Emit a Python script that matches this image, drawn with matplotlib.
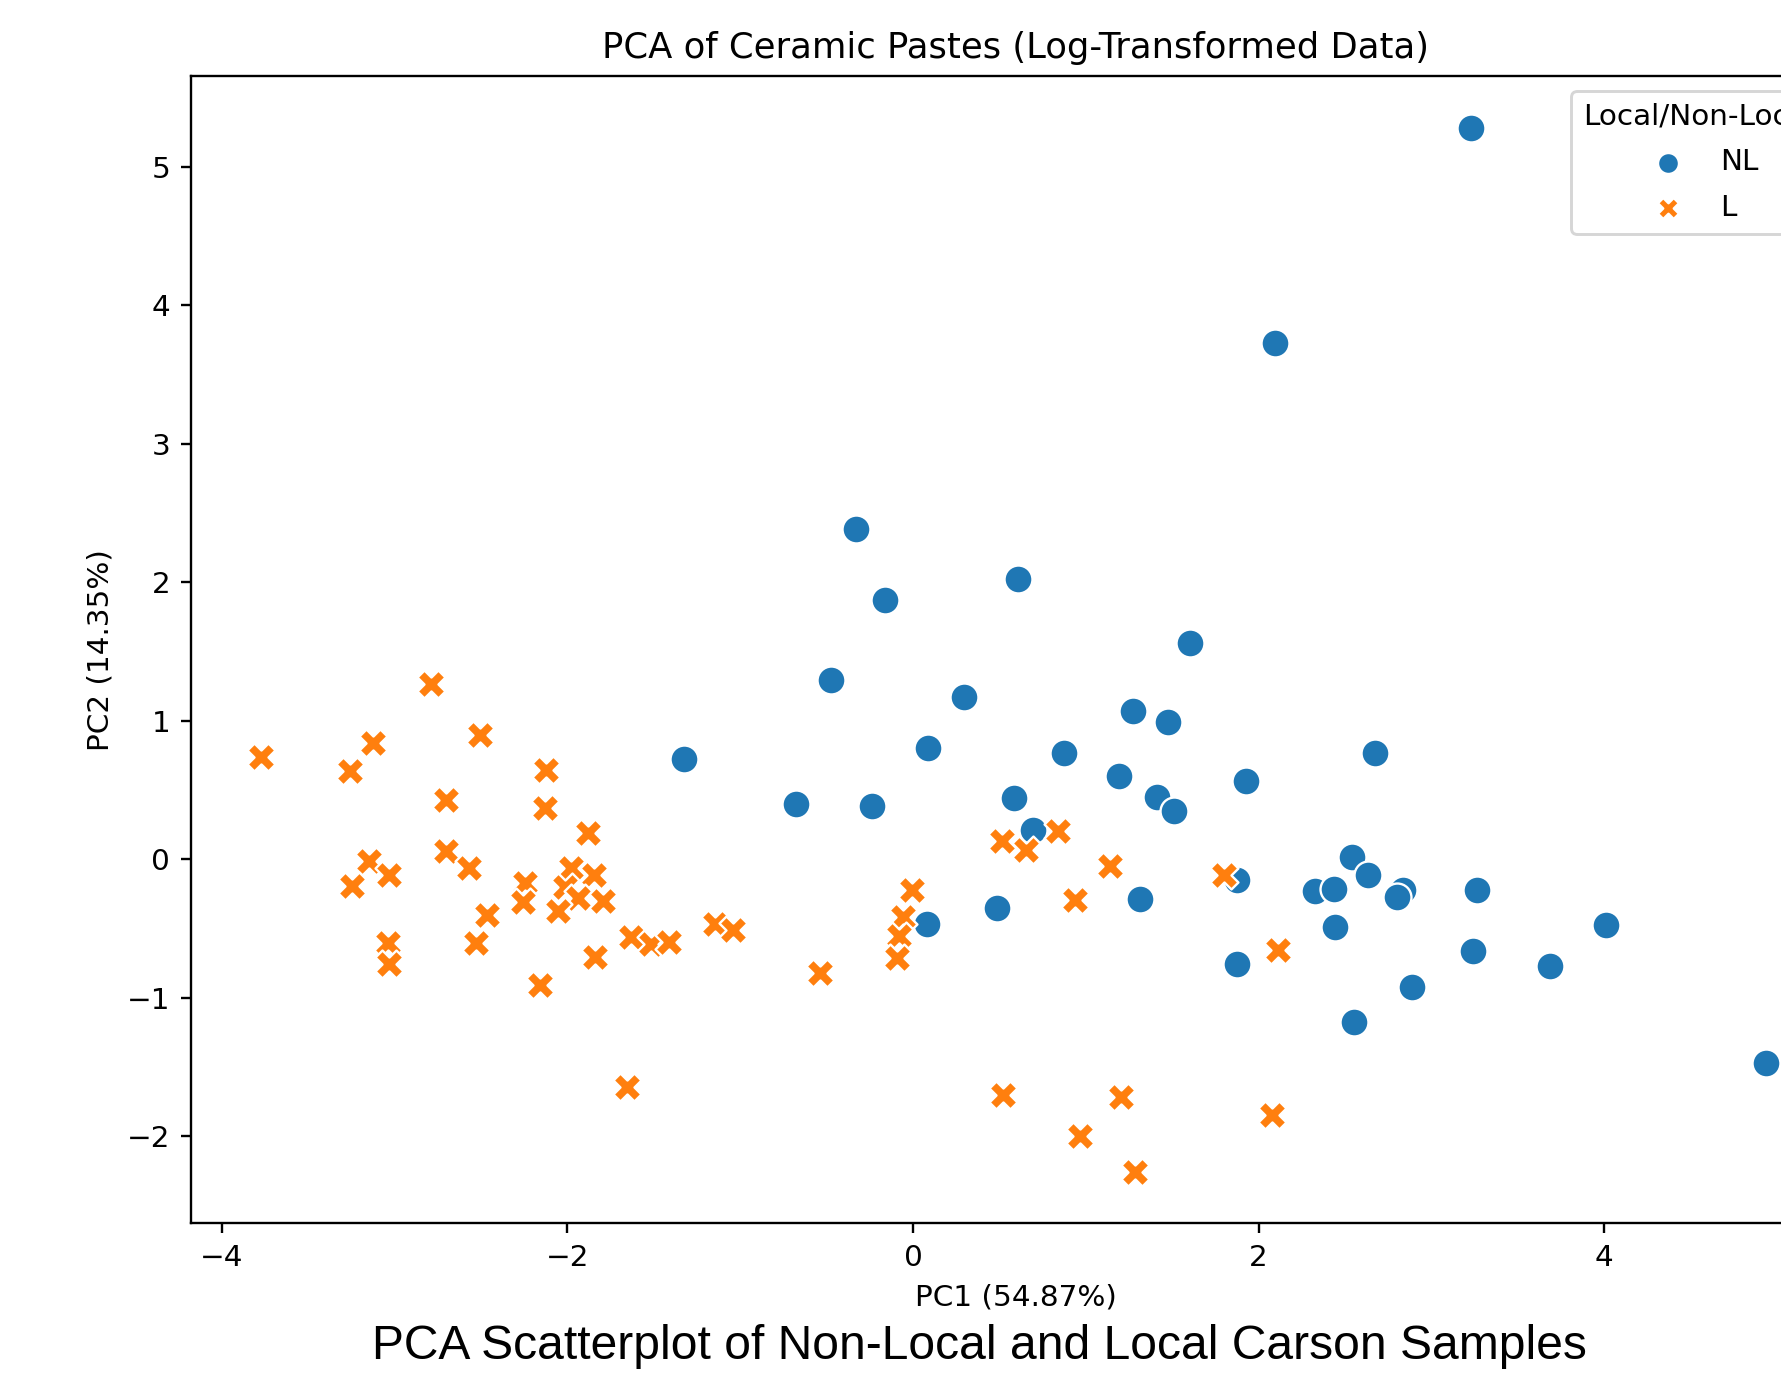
import matplotlib
matplotlib.use("Agg")
import matplotlib.pyplot as plt
import numpy as np

# PCA scores
nl_pc1 = [3.229, 2.096, -0.328, -0.160, 0.609, 1.602, -0.477, 0.293, 1.274, 1.477,
          -1.325, 0.089, 0.873, 2.673, 1.192, 1.929, -0.678, -0.236, 0.582, 1.413,
          1.508, 0.694, 2.541, 1.873, 2.328, 2.434, 2.630, 2.837, 2.802, 3.265,
          1.316, 0.484, 0.078, 2.441, 4.012, 3.240, 1.877, 3.688, 2.885, 2.550,
          4.936]
nl_pc2 = [5.279, 3.730, 2.383, 1.875, 2.024, 1.565, 1.294, 1.170, 1.073, 0.993,
          0.721, 0.806, 0.768, 0.768, 0.600, 0.566, 0.397, 0.384, 0.440, 0.447,
          0.349, 0.208, 0.015, -0.152, -0.232, -0.214, -0.112, -0.220, -0.274, -0.224,
          -0.285, -0.350, -0.470, -0.487, -0.475, -0.662, -0.758, -0.770, -0.920, -1.175,
          -1.475]

l_pc1 = [-3.774, -3.125, -3.256, -2.792, -2.506, -2.127, -2.701, -2.131, -1.884, -2.705,
         -3.146, -2.570, -3.033, -3.245, -1.978, -1.845, -2.246, -2.258, -2.014, -1.937,
         -1.795, -2.054, -2.465, -3.036, -3.034, -2.527, -1.841, -2.160, -1.635, -1.516,
         -1.411, -1.145, -1.043, -1.655, -0.540, -0.005, -0.061, -0.082, -0.095, 0.517,
         0.656, 0.836, 1.137, 1.798, 0.940, 2.109, 0.519, 1.202, 0.964, 1.287,
         2.076]
l_pc2 = [0.735, 0.841, 0.636, 1.264, 0.896, 0.644, 0.427, 0.367, 0.191, 0.061,
         -0.015, -0.061, -0.114, -0.194, -0.064, -0.114, -0.175, -0.307, -0.198, -0.280,
         -0.301, -0.374, -0.403, -0.608, -0.755, -0.605, -0.706, -0.905, -0.563, -0.613,
         -0.598, -0.466, -0.510, -1.645, -0.820, -0.220, -0.416, -0.557, -0.710, 0.129,
         0.064, 0.203, -0.051, -0.116, -0.297, -0.656, -1.702, -1.716, -2.002, -2.258,
         -1.848]

groups = ["NL", "L"]
colors = ["#1f77b4", "#ff7f0e"]
markers = ["o", "X"]

D = 212
fig = plt.figure(figsize=(1781 / D, 1377 / D), dpi=D)
# axes run past the right edge: the reference is a cropped screenshot
ax = fig.add_axes([0.1071, 0.1116, 0.9266, 0.8331])

ax.scatter(nl_pc1, nl_pc2, s=90, c=colors[0], marker=markers[0],
           edgecolor="white", linewidth=0.8, label=groups[0])
ax.scatter(l_pc1, l_pc2, s=90, c=colors[1], marker=markers[1],
           edgecolor="white", linewidth=0.8, label=groups[1])

ax.set_xlim(-4.18, 5.37)
ax.set_ylim(-2.63, 5.656)
ax.set_xticks([-4, -2, 0, 2, 4])
ax.set_xlabel("PC1 (54.87%)")
ax.set_ylabel("PC2 (14.35%)")
ax.set_title("PCA of Ceramic Pastes (Log-Transformed Data)")
ax.legend(title="Local/Non-Local", loc="upper right", markerscale=0.75,
          labelspacing=0.6)

fig.text(0.55, 0.0225, "PCA Scatterplot of Non-Local and Local Carson Samples",
         family="Liberation Sans", fontsize=16.3, ha="center", va="center")

fig.savefig("out.png", dpi=D)
